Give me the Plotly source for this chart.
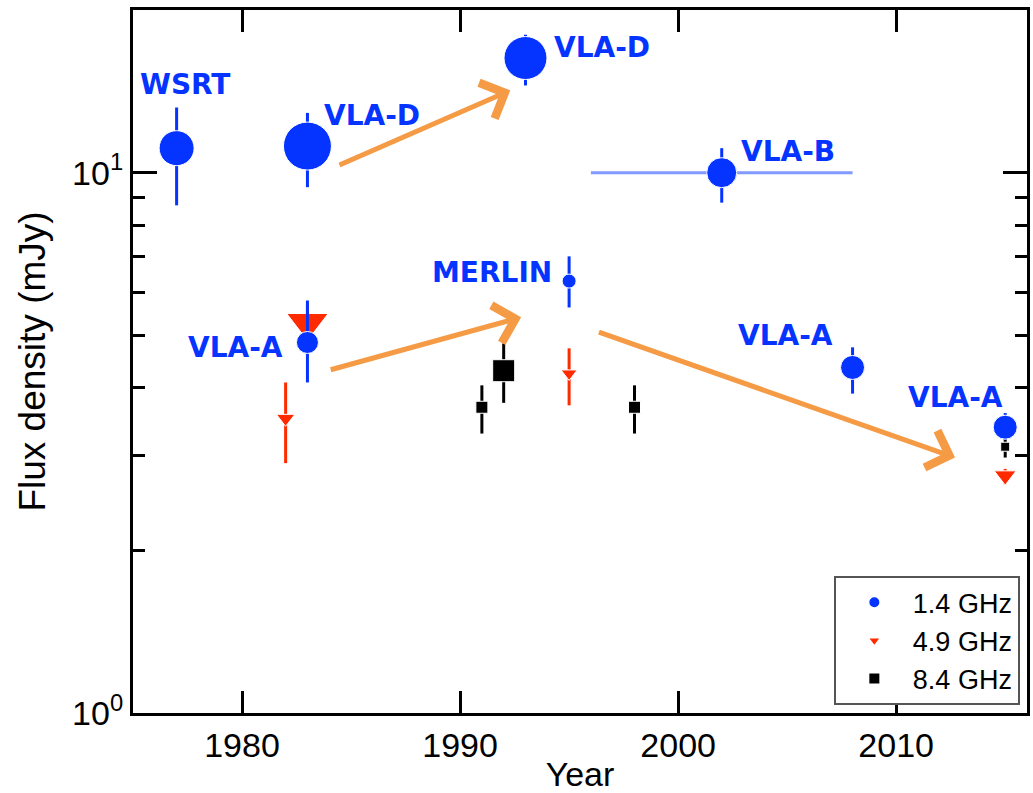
import numpy as np
import plotly.graph_objects as go

# ---- data ----
# 1.4 GHz (blue circles)
yr_14 = [1977, 1983, 1993, 2002, 1983, 1995, 2008, 2015]
flux_14 = [11.1, 11.2, 16.3, 10.0, 4.85, 6.3, 4.36, 3.38]
err_up_14 = [2.1, 1.7, 1.7, 1.1, 0.95, 0.7, 0.39, 0.21]
err_dn_14 = [2.4, 1.8, 1.8, 1.2, 0.76, 0.67, 0.46, 0.18]
xerr_14 = [0, 0, 0, 6, 0, 0, 0, 0]
size_14 = [35, 48, 43, 30, 22, 14, 24, 24]
labels_14 = ["WSRT", "VLA-D", "VLA-D", "VLA-B", "VLA-A", "MERLIN", "VLA-A", "VLA-A"]

# 4.9 GHz (red triangles)
yr_49 = [1982, 1983, 1995, 2015]
flux_49 = [3.51, 5.28, 4.25, 2.75]
err_up_49 = [0.58, 0.45, 0.48, 0.08]
err_dn_49 = [0.61, 0.40, 0.54, 0.10]
size_49 = [16, 36, 14, 19]

# 8.4 GHz (black squares)
yr_84 = [1991, 1992, 1998, 2015]
flux_84 = [3.68, 4.3, 3.68, 3.11]
err_up_84 = [0.36, 0.53, 0.36, 0.10]
err_dn_84 = [0.39, 0.55, 0.39, 0.14]
size_84 = [12, 22, 12, 9]

# arrows (tail year, tail flux, head year, head flux)
arrows = [
    (1984.4, 10.3, 1992.3, 14.2),
    (1984.0, 4.31, 1992.8, 5.40),
    (1996.3, 5.08, 2012.7, 2.97),
]

BLUE = "#0533FF"
RED = "#FF2A00"
BLACK = "#000000"
ORANGE = "#F59A45"

fig = go.Figure()

fig.add_trace(go.Scatter(
    x=yr_84, y=flux_84, mode="markers", name="8.4 GHz", legendrank=3,
    marker=dict(symbol="square", size=size_84, color=BLACK, opacity=1),
    error_y=dict(type="data", symmetric=False, array=err_up_84, arrayminus=err_dn_84,
                 color=BLACK, thickness=3, width=0),
))
fig.add_trace(go.Scatter(
    x=yr_49, y=flux_49, mode="markers", name="4.9 GHz", legendrank=2,
    marker=dict(symbol="triangle-down", size=size_49, color=RED, opacity=1),
    error_y=dict(type="data", symmetric=False, array=err_up_49, arrayminus=err_dn_49,
                 color=RED, thickness=3, width=0),
))
fig.add_trace(go.Scatter(
    x=yr_14, y=flux_14, mode="markers", name="1.4 GHz", legendrank=1,
    marker=dict(symbol="circle", size=size_14, color=BLUE, opacity=1),
    error_y=dict(type="data", symmetric=False, array=err_up_14, arrayminus=err_dn_14,
                 color=BLUE, thickness=3, width=0),
    error_x=dict(type="data", array=xerr_14, color="rgba(5,51,255,0.5)", thickness=3, width=0),
))

# labels: pixel offsets from each point
label_shift = [(8, 64), (65, 31), (77, 11), (66, 21), (-72, -5), (-77, 9), (-67, 32), (-50, 30)]
annotations = []
for x, y, t, (dx, dy) in zip(yr_14, flux_14, labels_14, label_shift):
    annotations.append(dict(
        x=x, y=np.log10(y), xref="x", yref="y", text="<b>%s</b>" % t, showarrow=False,
        xshift=dx, yshift=dy, xanchor="center", yanchor="middle",
        font=dict(family="DejaVu Sans", size=28, color=BLUE),
    ))
for x0, y0, x1, y1 in arrows:
    annotations.append(dict(
        x=x1, y=np.log10(y1), ax=x0, ay=np.log10(y0), xref="x", yref="y",
        axref="x", ayref="y", text="", showarrow=True, arrowhead=4, arrowsize=1.5,
        arrowwidth=5, arrowcolor=ORANGE, standoff=0, startstandoff=0,
    ))

fig.update_layout(
    width=1033, height=793,
    margin=dict(l=133, r=3, t=10, b=80),
    paper_bgcolor="white", plot_bgcolor="white",
    font=dict(family="Liberation Sans, Arial", color="black"),
    annotations=annotations,
    showlegend=True,
    legend=dict(
        x=0.992, y=0.011, xanchor="right", yanchor="bottom",
        bordercolor="#555555", borderwidth=2, bgcolor="white",
        font=dict(size=27, family="Liberation Sans, Arial"),
        itemsizing="constant", traceorder="normal", itemwidth=67,
        tracegroupgap=0,
    ),
)

fig.update_xaxes(
    range=[1975, 2016], tickvals=[1980, 1990, 2000, 2010],
    ticks="inside", ticklen=22, tickwidth=3, tickcolor="black",
    showline=True, linewidth=3, linecolor="black", mirror="ticks",
    showgrid=False, zeroline=False,
    tickfont=dict(size=34),
    title=dict(text="Year", font=dict(size=34), standoff=0),
)
fig.update_yaxes(
    type="log", range=[0, np.log10(20)],
    tickvals=[1, 10], ticktext=["10<sup>0</sup>", "10<sup>1</sup>"],
    ticks="inside", ticklen=24, tickwidth=3, tickcolor="black",
    showline=True, linewidth=3, linecolor="black", mirror="ticks",
    showgrid=False, zeroline=False,
    minor=dict(tickvals=[2, 3, 4, 5, 6, 7, 8, 9], ticks="inside", ticklen=12,
               tickwidth=3, tickcolor="black", showgrid=False),
    tickfont=dict(size=34),
    title=dict(text="Flux density (mJy)", font=dict(size=37), standoff=16),
)

fig.write_html("out.html")
